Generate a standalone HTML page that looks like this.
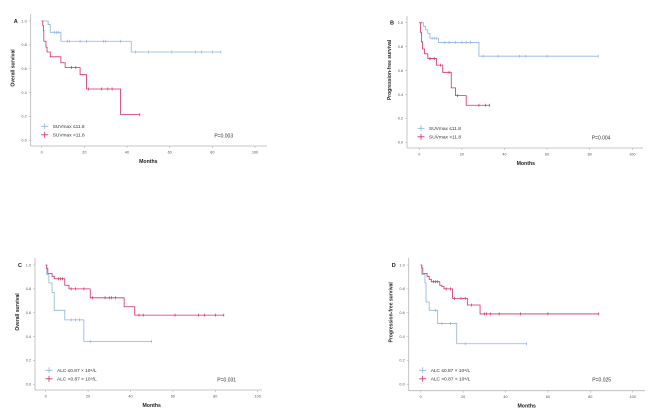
<!DOCTYPE html>
<html><head><meta charset="utf-8"><style>
html,body{margin:0;padding:0;background:#fff;width:669px;height:418px;overflow:hidden}
svg{display:block;font-family:"Liberation Sans",sans-serif}
</style></head><body>
<svg id="fig" width="669" height="418" viewBox="0 0 669 418"></svg>
<script>
// Panel A: Overall survival by SUVmax
const aBlueT=[0,3,4,9,42], aBlueS=[1,0.97,0.905,0.83,0.74], aBlueEnd=84;
const aBlueCT=[6,7,8,12,13,18,21,29,30,37,44,50,61,72,75,80,84];
const aRedT=[0,0.5,0.8,1,2,2.5,4,9,11,18,21,37], aRedS=[1,0.96,0.92,0.83,0.78,0.74,0.70,0.65,0.61,0.55,0.43,0.215], aRedEnd=46;
const aRedCT=[14,16,22,28,31,33,46];
// Panel B: PFS by SUVmax
const bBlueT=[0,2,3,4,5,9,28], bBlueS=[1,0.97,0.94,0.91,0.87,0.835,0.72], bBlueEnd=84;
const bBlueCT=[1,6,7,8,12,14,17,20,22,24,30,37,47,50,60,84];
const bRedT=[0,0.5,1,1.5,2.5,4,8,11,15,17,22], bRedS=[1,0.92,0.84,0.78,0.74,0.70,0.645,0.585,0.455,0.39,0.31], bRedEnd=33;
const bRedCT=[5,7,10,14,18,28,31,33];
// Panel C: OS by ALC
const cBlueT=[0,0.5,1.5,3,4,9,18], cBlueS=[1,0.92,0.85,0.77,0.62,0.54,0.36], cBlueEnd=50;
const cBlueCT=[12,14,16,21,50];
const cRedT=[0,0.5,1,3,4,9,11,21,37,42], cRedS=[1,0.97,0.93,0.905,0.885,0.83,0.80,0.725,0.65,0.58], cRedEnd=84;
const cRedCT=[6,7,8,12,14,18,22,28,30,31,33,44,46,61,72,75,80,84];
// Panel D: PFS by ALC
const dBlueT=[0,0.5,2,2.5,4,8,17], dBlueS=[1,0.92,0.85,0.69,0.62,0.51,0.34], dBlueEnd=50;
const dBlueCT=[7,10,14,21,50];
const dRedT=[0,0.5,1,3,4,5,9,10,11,15,22,28], dRedS=[1,0.975,0.93,0.905,0.88,0.86,0.83,0.82,0.80,0.72,0.665,0.59], dRedEnd=84;
const dRedCT=[6,7,8,12,14,16,19,21,24,30,31,33,37,47,60,84];
const xTicks=[0,20,40,60,80,100];
const yTicks=[0,0.2,0.4,0.6,0.8,1.0];

const NS="http://www.w3.org/2000/svg";
const svg=document.getElementById('fig');
function mk(tag,attrs,parent){const e=document.createElementNS(NS,tag);for(const k in attrs)e.setAttribute(k,attrs[k]);(parent||svg).appendChild(e);return e;}
const BLUE="#8db3e2", RED="#d42d63", AX="#b5b5b5";

const panels=[
 {id:'a',letter:'A',ax:30.7,top:14,bot:146,right:267,x0:41.7,x100:255,y1:21,y0:140.3,ylab:'Overall survival',leg:['SUVmax \u226411.8','SUVmax >11.8'],p:'P=0.003',
  blue:[aBlueT,aBlueS,aBlueEnd,aBlueCT],red:[aRedT,aRedS,aRedEnd,aRedCT]},
 {id:'b',letter:'B',ax:407,top:16,bot:148,right:643,x0:419.3,x100:632.3,y1:22.7,y0:142.3,ylab:'Progression-free survival',leg:['SUVmax \u226411.8','SUVmax >11.8'],p:'P=0.004',
  blue:[bBlueT,bBlueS,bBlueEnd,bBlueCT],red:[bRedT,bRedS,bRedEnd,bRedCT]},
 {id:'c',letter:'C',ax:35,top:258,bot:390,right:262,x0:45.7,x100:257.7,y1:265,y0:384.3,ylab:'Overall survival',leg:['ALC \u22640.87 \u00d7 10\u2079/L','ALC >0.87 \u00d7 10\u2079/L'],p:'P=0.031',
  blue:[cBlueT,cBlueS,cBlueEnd,cBlueCT],red:[cRedT,cRedS,cRedEnd,cRedCT]},
 {id:'d',letter:'D',ax:408.7,top:258,bot:390.7,right:645,x0:420.7,x100:632.7,y1:265,y0:384.3,ylab:'Progression-free survival',leg:['ALC \u22640.87 \u00d7 10\u2079/L','ALC >0.87 \u00d7 10\u2079/L'],p:'P=0.025',
  blue:[dBlueT,dBlueS,dBlueEnd,dBlueCT],red:[dRedT,dRedS,dRedEnd,dRedCT]}
];

panels.forEach(P=>{
 const g=mk('g',{});
 
 
 const X=m=>P.x0+(P.x100-P.x0)*m/100;
 const Y=s=>P.y0+(P.y1-P.y0)*s;
 const yax=mk('line',{x1:P.ax,y1:P.top,x2:P.ax,y2:P.bot,stroke:AX,'stroke-width':0.8},g);
 
 
 const xax=mk('line',{x1:P.ax,y1:P.bot,x2:P.right,y2:P.bot,stroke:AX,'stroke-width':0.8},g);
 
 
 xTicks.forEach(t=>{
  mk('line',{x1:X(t),y1:P.bot,x2:X(t),y2:P.bot+2,stroke:AX,'stroke-width':0.6},g);
  const tx=mk('text',{x:X(t),y:P.bot+7.5,'font-size':3.8,'text-anchor':'middle',fill:'#555'},g);
  tx.textContent=t;
  
  
 });
 yTicks.forEach(t=>{
  mk('line',{x1:P.ax-2,y1:Y(t),x2:P.ax,y2:Y(t),stroke:AX,'stroke-width':0.6},g);
  const tx=mk('text',{x:P.ax-4,y:Y(t)+1.3,'font-size':3.8,'text-anchor':'end',fill:'#555'},g);
  tx.textContent=t.toFixed(1);
  
  
 });
 const xl=mk('text',{x:(X(0)+X(100))/2,y:P.bot+17,'font-size':5.2,'font-weight':'bold','text-anchor':'middle',fill:'#222'},g);
 xl.textContent='Months';
 
 
 const ymid=(P.top+P.bot)/2-12;
 const yl=mk('text',{x:P.ax-16,y:ymid,'font-size':5,'font-weight':'bold','text-anchor':'middle',fill:'#222',transform:`rotate(-90 ${P.ax-16} ${ymid})`},g);
 yl.textContent=P.ylab;
 
 
 const lt=mk('text',{x:P.ax-17,y:P.y1+2,'font-size':5.5,'font-weight':'bold',fill:'#222'},g);
 lt.textContent=P.letter;
 
 
 [['blue',BLUE],['red',RED]].forEach(([k,col],i)=>{
  const [T,S,end,CT]=P[k];
  let d=`M${X(T[0])},${Y(S[0])}`;
  for(let j=1;j<T.length;j++){d+=` H${X(T[j])} V${Y(S[j])}`;}
  d+=` H${X(end)}`;
  const path=mk('path',{d:d,fill:'none',stroke:col,'stroke-width':0.8},g);
  
  
  CT.forEach(c=>{
   let s=S[0];for(let j=0;j<T.length;j++){if(T[j]<=c)s=S[j];}
   const cm=mk('path',{d:`M${X(c)},${Y(s)-1.5}V${Y(s)+1.5}`,stroke:col,'stroke-width':0.7},g);
   
   
  });
  const ly=P.y0-14+i*8.5, lx=P.ax+14;
  const ls=mk('path',{d:`M${lx-3.5},${ly}H${lx+3.5}M${lx},${ly-3}V${ly+3}`,stroke:col,'stroke-width':0.8},g);
  
  
  const lg=mk('text',{x:lx+8,y:ly+1.8,'font-size':4.8,fill:'#333'},g);
  lg.textContent=P.leg[i];
  
  
 });
 const pv=mk('text',{x:X(80)+2,y:P.y0-3,'font-size':5,fill:'#333'},g);
 pv.textContent=P.p;
 
 
});
</script>
</body></html>
